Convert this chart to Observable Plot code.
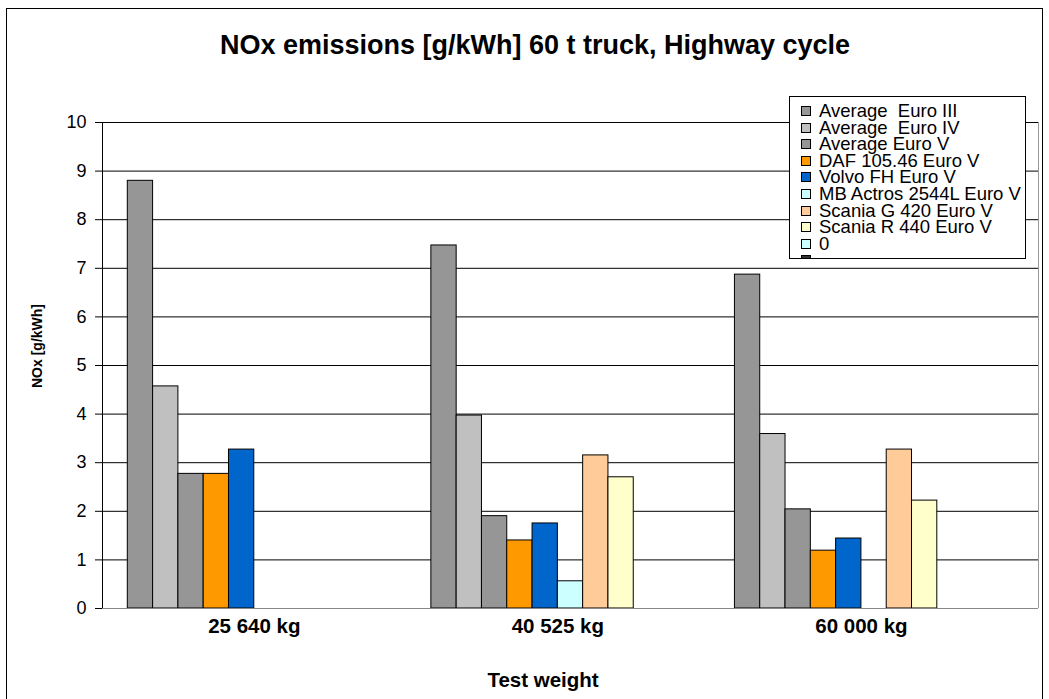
<!DOCTYPE html>
<html>
<head>
<meta charset="utf-8">
<script src="https://cdn.jsdelivr.net/npm/d3@7"></script>
<script src="https://cdn.jsdelivr.net/npm/@observablehq/plot@0.6"></script>
<style>
  body { margin: 0; background: #fff; font-family: "Liberation Sans", Arial, sans-serif; }
  #wrap { position: relative; width: 1049px; height: 699px; overflow: hidden; background: #fff; }
  #border { position: absolute; left: 6px; top: 8px; width: 1037px; height: 720px; border: 1px solid #000; box-sizing: border-box; }
  #chart { position: absolute; left: 0; top: 0; }
  #title { position: absolute; left: 0; top: 32px; width: 1070px; text-align: center; font-weight: bold; font-size: 27px; line-height: 1; color: #000; }
  #xtitle { position: absolute; left: 443px; width: 200px; top: 670px; text-align: center; font-weight: bold; font-size: 20.5px; line-height: 1; }
  #ytitle { position: absolute; left: 37px; top: 346px; transform: translate(-50%, -50%) rotate(-90deg); font-weight: bold; font-size: 14px; white-space: nowrap; }
  #legend { position: absolute; left: 789px; top: 96px; width: 237px; height: 163px; border: 1px solid #000; box-sizing: border-box; background: #fff; overflow: hidden; }
  .item { position: absolute; left: 11px; height: 17px; line-height: 17px; font-size: 18.5px; white-space: pre; }
  .sw { position: absolute; left: 0; top: 4px; width: 8px; height: 8px; border: 1px solid #000; box-sizing: content-box; }
  .lab { position: absolute; left: 18px; top: 0; }
</style>
</head>
<body>
<div id="wrap">
  <div id="border"></div>
  <div id="chart"></div>
  <div id="title">NOx emissions [g/kWh] 60 t truck, Highway cycle</div>
  <div id="xtitle">Test weight</div>
  <div id="ytitle">NOx [g/kWh]</div>
  <div id="legend"></div>
</div>
<script>
// ---- data ----
const categories = ["25 640 kg", "40 525 kg", "60 000 kg"];
const seriesNames = [
  "Average  Euro III", "Average  Euro IV", "Average Euro V",
  "DAF 105.46 Euro V", "Volvo FH Euro V", "MB Actros 2544L Euro V",
  "Scania G 420 Euro V", "Scania R 440 Euro V", "0", " "
];
const seriesColors = ["#969696", "#c0c0c0", "#969696", "#ff9900", "#0066cc",
  "#ccffff", "#ffcc99", "#ffffcc", "#ccffff", "#333333"];

const avgEuroIII = [8.80, 7.47, 6.87];
const avgEuroIV  = [4.57, 3.97, 3.59];
const avgEuroV   = [2.77, 1.90, 2.04];
const daf10546   = [2.77, 1.40, 1.19];
const volvoFH    = [3.27, 1.75, 1.44];
const mbActros   = [null, 0.56, null];
const scaniaG420 = [null, 3.15, 3.27];
const scaniaR440 = [null, 2.70, 2.22];
const zeroSeries = [null, null, null];
const extraSeries = [null, null, null];
const yTicks = [0, 1, 2, 3, 4, 5, 6, 7, 8, 9, 10];

const seriesValues = [avgEuroIII, avgEuroIV, avgEuroV, daf10546, volvoFH,
  mbActros, scaniaG420, scaniaR440, zeroSeries, extraSeries];

// ---- layout of the clustered bars (slot units) ----
const gapSlots = 2;
const slotsPerGroup = seriesNames.length + gapSlots;
const xMax = categories.length * slotsPerGroup + 1;

const rows = [];
categories.forEach((cat, i) => {
  seriesNames.forEach((s, j) => {
    const v = seriesValues[j][i];
    if (v != null) {
      const x1 = gapSlots / 2 + i * slotsPerGroup + j;
      rows.push({cat, series: s, value: v, x1, x2: x1 + 1});
    }
  });
});
const catCenters = categories.map((c, i) => ({cat: c, x: gapSlots / 2 + i * slotsPerGroup + seriesNames.length / 2}));

const chart = Plot.plot({
  width: 1049,
  height: 699,
  marginLeft: 102,
  marginRight: 11,
  marginTop: 122,
  marginBottom: 91,
  style: {fontFamily: "'Liberation Sans', Arial, sans-serif", fontSize: "18px", color: "#000", background: "transparent", overflow: "visible"},
  x: {domain: [0, xMax], axis: null},
  y: {domain: [0, 10], ticks: yTicks, tickSize: 7, tickPadding: 9, label: null},
  color: {domain: seriesNames, range: seriesColors},
  marks: [
    Plot.ruleY(yTicks, {stroke: "#000", strokeWidth: 1}),
    Plot.ruleX([xMax], {stroke: "#999", strokeWidth: 1}),
    Plot.rectY(rows, {x1: "x1", x2: "x2", y: "value", fill: "series", stroke: "#000", strokeWidth: 1}),
    Plot.ruleY([0], {stroke: "#888"}),
    Plot.ruleX([0], {stroke: "#000"}),
    Plot.text(catCenters, {x: "x", text: "cat", frameAnchor: "bottom", dy: 24, fontWeight: "bold", fontSize: 20.5})
  ]
});
document.getElementById("chart").appendChild(chart);

// ---- legend ----
const legend = document.getElementById("legend");
seriesNames.forEach((s, j) => {
  const item = document.createElement("div");
  item.className = "item";
  item.style.top = (5 + j * 16.6) + "px";
  const sw = document.createElement("div");
  sw.className = "sw";
  sw.style.background = seriesColors[j];
  const lab = document.createElement("span");
  lab.className = "lab";
  lab.textContent = s;
  item.appendChild(sw);
  item.appendChild(lab);
  legend.appendChild(item);
});
</script>
</body>
</html>
